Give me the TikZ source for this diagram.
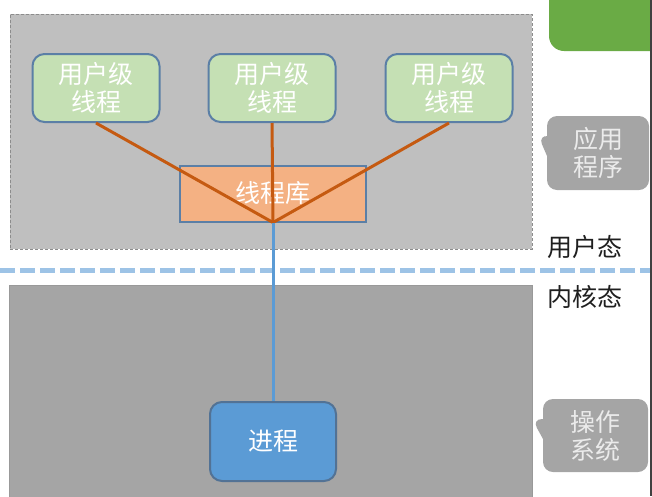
\documentclass[tikz,border=0pt]{standalone}
\usepackage{fontspec}
\setmainfont{Noto Sans CJK SC}
\usepackage{xcolor}
\usetikzlibrary{shapes.callouts}

\definecolor{appgray}{HTML}{BFBFBF}
\definecolor{osgray}{HTML}{A5A5A5}
\definecolor{ulgreen}{HTML}{C5E0B4}
\definecolor{libor}{HTML}{F4B183}
\definecolor{lineor}{HTML}{C55A11}
\definecolor{procblue}{HTML}{5B9BD5}
\definecolor{edgeblue}{HTML}{5B7FA6}
\definecolor{sepblue}{HTML}{9DC3E6}
\definecolor{topgreen}{HTML}{6AAB45}

\begin{document}
\begin{tikzpicture}[x=1pt,y=-1pt,
  box/.style={rectangle,draw=edgeblue,line width=2pt,align=center,
    text=white,font=\fontsize{25}{28}\selectfont,inner sep=0pt},
  ult/.style={box,fill=ulgreen,rounded corners=12pt,minimum width=127pt,minimum height=68pt},
  tip/.style={rectangle callout,fill=osgray,rounded corners=10pt,align=center,
    text=white!92!black,font=\fontsize{25}{28}\selectfont,callout pointer width=20pt},
  lab/.style={font=\fontsize{25}{28}\selectfont,text=black!88}]
\clip (0,0) rectangle (652,496);

% areas
\node[rectangle,fill=appgray,draw=black!45,densely dashed,line width=1pt,
  minimum width=522pt,minimum height=235pt] (app) at (271,131.5) {};
\node[rectangle,fill=osgray,draw=black!40,line width=1pt,
  minimum width=523pt,minimum height=225pt] (os) at (270.5,397.5) {};
\node[rectangle,fill=topgreen,rounded corners=15pt,
  minimum width=130pt,minimum height=90pt] (top) at (614,6) {};

% threads
\node[ult] (U1) at (96,88)  {用户级\\线程};
\node[ult] (U2) at (272,88) {用户级\\线程};
\node[ult] (U3) at (449,88) {用户级\\线程};
\node[box,fill=libor,minimum width=186pt,minimum height=56pt] (L) at (273,193.5) {线程库};
\node[box,fill=procblue,rounded corners=12pt,draw=edgeblue!90!black,
  minimum width=126pt,minimum height=79pt] (P) at (273,441.5) {进程};

% user / kernel border
\coordinate (SL) at (0,270);
\coordinate (SR) at (652,270);
\draw[sepblue,line width=5pt,dash pattern=on 15pt off 5pt] (SL) -- (SR);

\path[lineor,line width=3pt]
    (U1.south) edge (L.south)
    (U2.south) edge (L.south)
    (U3.south) edge (L.south);
\draw[procblue,line width=3pt] (L.south) -- (P.north);

% labels
\node[lab] (UM) at (585,247) {用户态};
\node[lab] (KM) at (585,297) {内核态};
\node[tip,minimum width=102pt,minimum height=74pt,
  callout absolute pointer={(538,135)}] (T1) at (598,153) {应用\\程序};
\node[tip,minimum width=105pt,minimum height=73pt,
  callout absolute pointer={(532,419)}] (T2) at (595.5,435.5) {操作\\系统};

\draw[black!75,line width=2pt] (651,0) -- (651,496);
\end{tikzpicture}
\end{document}
